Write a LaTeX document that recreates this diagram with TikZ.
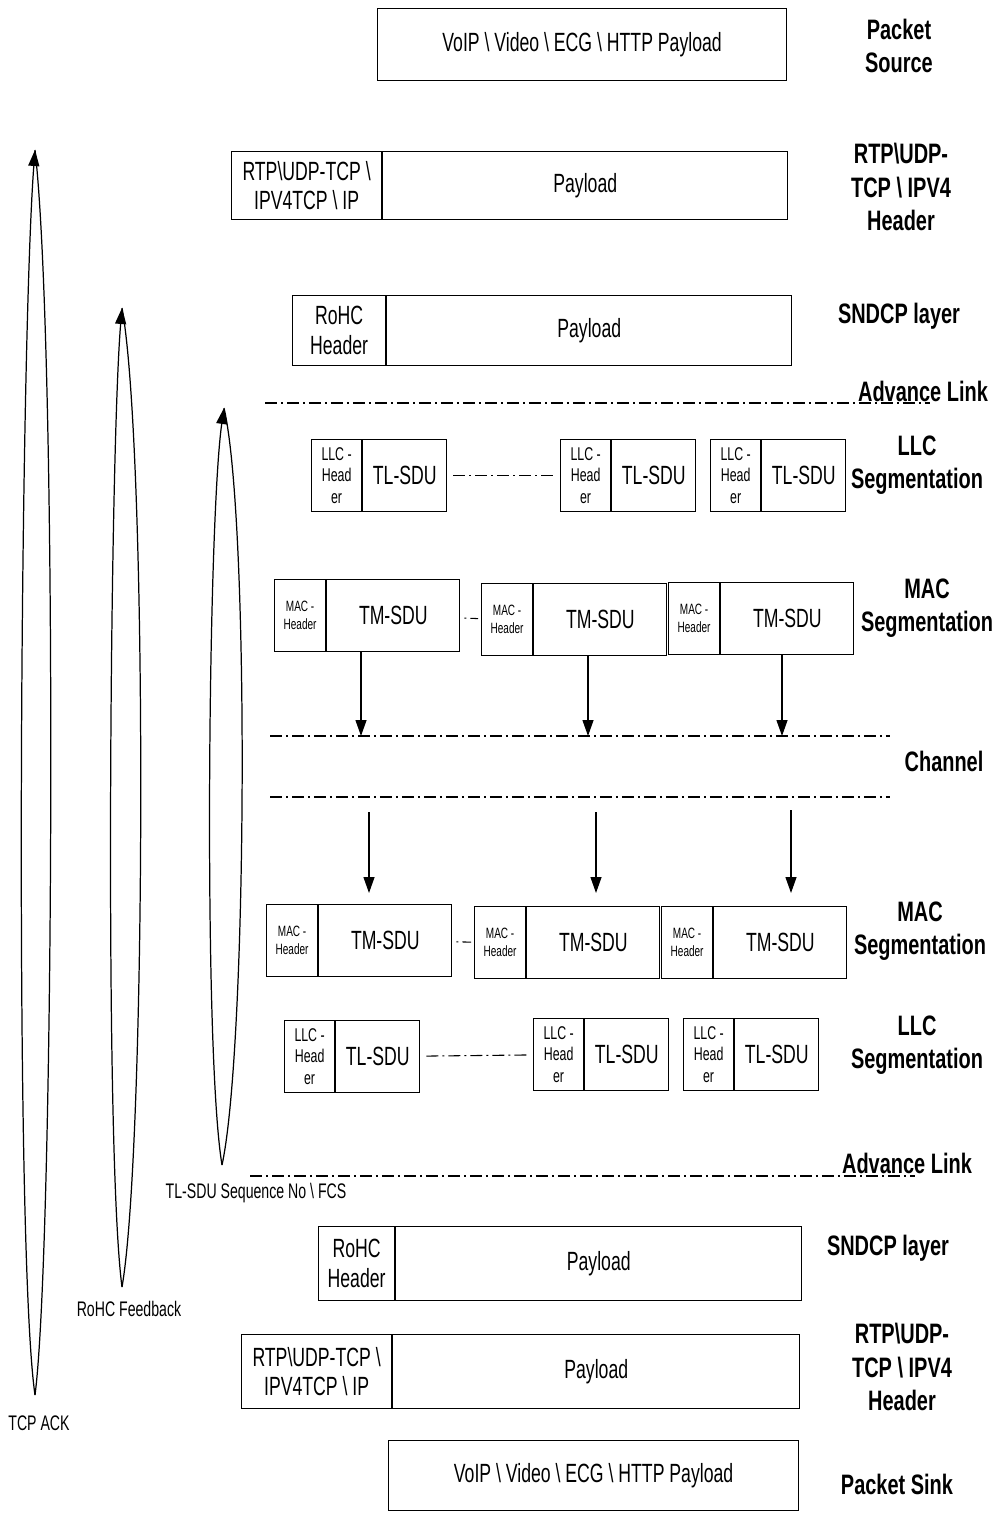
\documentclass[tikz,border=0pt]{standalone}
\usepackage{fontspec}
\setmainfont{Liberation Sans}[FakeStretch=0.67, BoldFeatures={FakeStretch=0.71}]
\usetikzlibrary{arrows.meta,positioning}
\newcommand{\bsl}{\textbackslash}

\begin{document}
\begin{tikzpicture}[
  x=0.02cm, y=-0.02cm,
  box/.style={draw=black, line width=0.7pt, inner sep=0pt, align=center, font=\fontsize{15}{17}\selectfont},
  llch/.style={box, minimum width=1cm, minimum height=1.44cm, font=\fontsize{10.5}{12.2}\selectfont},
  llcb/.style={box, minimum width=1.68cm, minimum height=1.44cm},
  mach/.style={box, minimum width=1.02cm, minimum height=1.44cm, font=\fontsize{8.5}{10.2}\selectfont},
  macb/.style={box, minimum width=2.66cm, minimum height=1.44cm},
  lbl/.style={align=center, font=\fontsize{16}{19}\selectfont\bfseries},
  note/.style={align=center, font=\fontsize{12}{14}\selectfont},
  ddash/.style={line width=0.6pt, dash pattern=on 0.24cm off 0.08cm on 0.04cm off 0.08cm},
  dshort/.style={line width=0.6pt, dash pattern=on 0.04cm off 0.08cm on 0.24cm off 0.08cm},
  arr/.style={line width=0.7pt, -{Triangle[length=0.32cm,width=0.22cm]}},
  loop/.style={line width=0.7pt}
]
  \useasboundingbox (0,0) rectangle (1005,1513);

  % Sender side
  \node[box, minimum width=8.18cm, minimum height=1.44cm, anchor=north west] (src) at (377,8) {VoIP \bsl{} Video \bsl{} ECG \bsl{} HTTP Payload};
  \node[lbl] (lsrc) at (899,46) {Packet\\Source};

  \node[box, minimum width=3cm, minimum height=1.36cm, anchor=north west] (rtpH) at (231,151) {RTP\bsl UDP-TCP \bsl\\IPV4TCP \bsl{} IP};
  \node[box, minimum width=8.1cm, minimum height=1.36cm, right=0pt of rtpH] (rtpP) {Payload};
  \node[lbl] (lrtp) at (901,187) {RTP\bsl UDP-\\TCP \bsl{} IPV4\\Header};

  \node[box, minimum width=1.86cm, minimum height=1.4cm, anchor=north west] (snH) at (292,295) {RoHC\\Header};
  \node[box, minimum width=8.1cm, minimum height=1.4cm, right=0pt of snH] (snP) {Payload};
  \node[lbl] (lsn) at (899,316) {SNDCP layer};

  % Advance link (top)
  \coordinate (alA) at (265,403);
  \coordinate (alB) at (930,403);
  \draw[ddash] (alA) -- (alB);
  \node[lbl] (lal) at (923,391) {Advance Link};

  % LLC segmentation (top)
  \foreach \x/\y/\n in {311/439/la, 560/439/lb, 710/439/lc} {
    \node[llch, anchor=north west] (\n h) at (\x,\y) {LLC -\\Head\\er};
    \node[llcb, right=0pt of \n h] (\n b) {TL-SDU};
  }
  \draw[ddash, shorten <=0.12cm, shorten >=0.1cm] (lab) -- (lbh);
  \node[lbl] (lllc) at (917,465) {LLC\\Segmentation};

  % MAC segmentation (top)
  \foreach \x/\y/\n in {274/579/ma, 481/583/mb, 668/582/mc} {
    \node[mach, anchor=north west] (\n h) at (\x,\y) {MAC -\\Header};
    \node[macb, right=0pt of \n h] (\n b) {TM-SDU};
  }
  \draw[dshort, shorten <=0.08cm, shorten >=0.06cm] (mab) -- (mbh);
  \node[lbl] (lmac) at (927,608) {MAC\\Segmentation};

  % Channel
  \coordinate (chA) at (270,736);
  \coordinate (chB) at (890,736);
  \coordinate (chC) at (270,797);
  \coordinate (chD) at (890,797);
  \draw[ddash] (chA) -- (chB);
  \draw[ddash] (chC) -- (chD);
  \node[lbl] (lch) at (944,761) {Channel};

  \coordinate (c1) at (361,736);
  \coordinate (c2) at (588,736);
  \coordinate (c3) at (782,736);
  \draw[arr] (mab.south -| c1) -- (c1);
  \draw[arr] (mbb.south -| c2) -- (c2);
  \draw[arr] (mcb.south -| c3) -- (c3);

  % MAC segmentation (bottom)
  \foreach \x/\y/\n in {266/904/md, 474/906/me, 661/906/mf} {
    \node[mach, anchor=north west] (\n h) at (\x,\y) {MAC -\\Header};
    \node[macb, right=0pt of \n h] (\n b) {TM-SDU};
  }
  \draw[dshort, shorten <=0.08cm, shorten >=0.06cm] (mdb) -- (meh);
  \node[lbl] (lmac2) at (920,931) {MAC\\Segmentation};

  \coordinate (d1) at (369,812);
  \coordinate (d2) at (596,812);
  \coordinate (d3) at (791,810);
  \draw[arr, shorten >=0.22cm] (d1) -- (d1 |- mdb.north);
  \draw[arr, shorten >=0.26cm] (d2) -- (d2 |- meb.north);
  \draw[arr, shorten >=0.26cm] (d3) -- (d3 |- mfb.north);

  % LLC segmentation (bottom)
  \foreach \x/\y/\n in {284/1020/ld, 533/1018/le, 683/1018/lf} {
    \node[llch, anchor=north west] (\n h) at (\x,\y) {LLC -\\Head\\er};
    \node[llcb, right=0pt of \n h] (\n b) {TL-SDU};
  }
  \draw[ddash, shorten <=0.12cm, shorten >=0.1cm] (ldb) -- (leh);
  \node[lbl] (lllc2) at (917,1045) {LLC\\Segmentation};

  % Advance link (bottom)
  \coordinate (blA) at (250,1176);
  \coordinate (blB) at (915,1176);
  \draw[ddash] (blA) -- (blB);
  \node[lbl] (lbl2) at (907,1163) {Advance Link};

  % Receiver side
  \node[box, minimum width=1.52cm, minimum height=1.48cm, anchor=north west] (snH2) at (318,1226) {RoHC\\Header};
  \node[box, minimum width=8.12cm, minimum height=1.48cm, right=0pt of snH2] (snP2) {Payload};
  \node[lbl] (lsn2) at (888,1248) {SNDCP layer};

  \node[box, minimum width=3cm, minimum height=1.48cm, anchor=north west] (rtpH2) at (241,1334) {RTP\bsl UDP-TCP \bsl\\IPV4TCP \bsl{} IP};
  \node[box, minimum width=8.14cm, minimum height=1.48cm, right=0pt of rtpH2] (rtpP2) {Payload};
  \node[lbl] (lrtp2) at (902,1367) {RTP\bsl UDP-\\TCP \bsl{} IPV4\\Header};

  \node[box, minimum width=8.2cm, minimum height=1.4cm, anchor=north west] (snk) at (388,1440) {VoIP \bsl{} Video \bsl{} ECG \bsl{} HTTP Payload};
  \node[lbl] (lsnk) at (897,1484) {Packet Sink};

  % Feedback loops
  \coordinate (tcpT) at (35,150);
  \coordinate (tcpB) at (35,1395);
  \draw[loop, arr] (tcpB) .. controls (14,1250) and (20,350) .. (tcpT);
  \draw[loop] (tcpT) .. controls (58,350) and (54,1250) .. (tcpB);
  \node[note] (ltcp) at (39,1423) {TCP ACK};

  \coordinate (rohT) at (122,308);
  \coordinate (rohB) at (122,1287);
  \draw[loop, arr] (rohB) .. controls (104,1150) and (110,450) .. (rohT);
  \draw[loop] (rohT) .. controls (148,450) and (146,1150) .. (rohB);
  \node[note] (lroh) at (129,1309) {RoHC Feedback};

  \coordinate (seqT) at (224,408);
  \coordinate (seqB) at (222,1165);
  \draw[loop, arr] (seqB) .. controls (203,1050) and (208,520) .. (seqT);
  \draw[loop] (seqT) .. controls (250,520) and (247,1050) .. (seqB);
  \node[note] (lseq) at (256,1193) {TL-SDU Sequence No \bsl{} FCS};
\end{tikzpicture}
\end{document}
